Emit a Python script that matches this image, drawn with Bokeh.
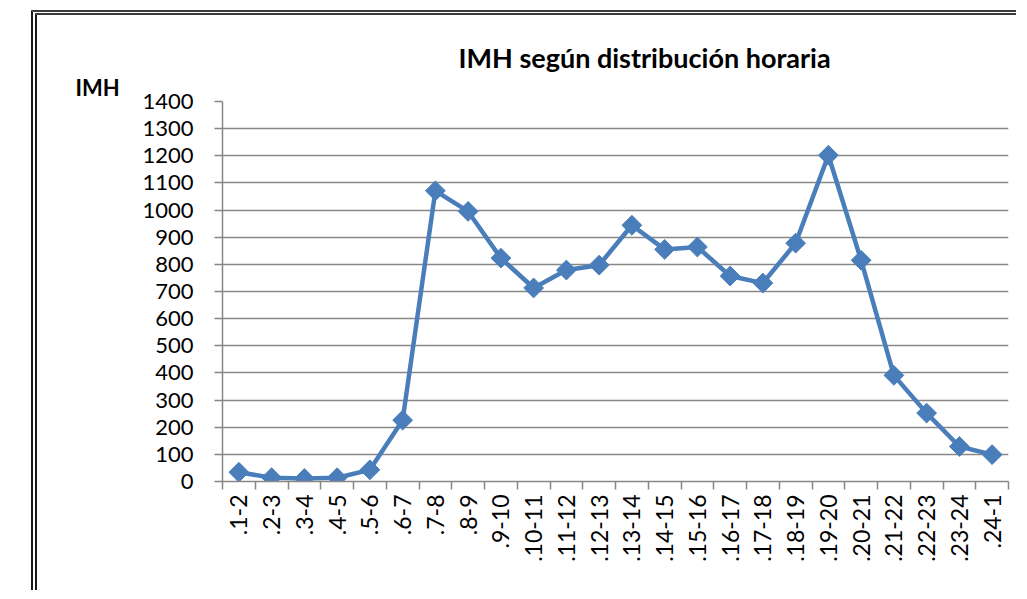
import math
from bokeh.plotting import figure
from bokeh.models import Range1d, FixedTicker, Title
from bokeh.embed import file_html
from bokeh.resources import INLINE

hours = [".1-2", ".2-3", ".3-4", ".4-5", ".5-6", ".6-7", ".7-8", ".8-9", ".9-10",
         ".10-11", ".11-12", ".12-13", ".13-14", ".14-15", ".15-16", ".16-17",
         ".17-18", ".18-19", ".19-20", ".20-21", ".21-22", ".22-23", ".23-24", ".24-1"]
imh = [34, 14, 11, 14, 43, 226, 1071, 995, 823, 713, 779, 797, 944, 855, 864, 757,
       731, 878, 1202, 815, 391, 252, 129, 99]
y_ticks = list(range(0, 1500, 100))

title_text = "IMH según distribución horaria"
y_title = "IMH"

FONT = "Lato"
BLUE = "#4A7EBB"
GRID = "#878787"

xs = [i + 0.5 for i in range(len(hours))]

# canvas starts at x=37, y=15 (after the CSS margin + double border)
W, H = 985, 580
p = figure(width=W, height=H, output_backend="svg", toolbar_location=None,
           x_range=Range1d(0, len(hours)), y_range=Range1d(0, 1400),
           min_border_left=185, min_border_right=14, min_border_top=86, min_border_bottom=114)
p.styles = {"margin-left": "31px", "margin-top": "10px",
            "border-left": "6px double #1a1a1a", "border-top": "5px double #3a3a3a"}
p.outline_line_color = None
p.background_fill_color = "white"
p.border_fill_color = "white"

# y axis
p.yaxis.ticker = FixedTicker(ticks=y_ticks, minor_ticks=[])
p.yaxis.axis_line_color = GRID
p.yaxis.axis_line_width = 1.5
p.yaxis.major_tick_line_color = GRID
p.yaxis.major_tick_line_width = 1.5
p.yaxis.major_tick_in = 0
p.yaxis.major_tick_out = 8
p.yaxis.minor_tick_line_color = None
p.yaxis.major_label_text_font = FONT
p.yaxis.major_label_text_font_size = "22px"
p.yaxis.major_label_text_color = "black"
p.yaxis.major_label_standoff = 21

# x axis: labels at centres, tick marks at boundaries
p.xaxis.ticker = FixedTicker(ticks=xs, minor_ticks=list(range(len(hours) + 1)))
p.xaxis.major_label_overrides = {x: h for x, h in zip(xs, hours)}
p.xaxis.major_tick_line_color = None
p.xaxis.minor_tick_line_color = GRID
p.xaxis.minor_tick_line_width = 1.5
p.xaxis.minor_tick_in = 0
p.xaxis.minor_tick_out = 8
p.xaxis.axis_line_color = GRID
p.xaxis.axis_line_width = 1.5
p.xaxis.major_label_orientation = math.pi / 2
p.xaxis.major_label_text_font = FONT
p.xaxis.major_label_text_font_size = "23px"
p.xaxis.major_label_text_color = "black"
p.xaxis.major_label_standoff = 5

p.xgrid.grid_line_color = None
p.ygrid.ticker = FixedTicker(ticks=y_ticks)
p.ygrid.grid_line_color = GRID
p.ygrid.grid_line_width = 1.5

p.line(xs, imh, line_color=BLUE, line_width=4.5)
p.scatter(xs, imh, marker="square", angle=math.pi / 4, size=14,
          fill_color=BLUE, line_color=BLUE)

# "IMH" unit label (closest to the frame), then the chart title above it
p.add_layout(Title(text=y_title, align="left", offset=-147, standoff=2,
                   text_font=FONT, text_font_style="bold", text_font_size="22px",
                   text_color="black"), "above")
p.title = Title(text=title_text, align="left", offset=236, standoff=-7,
                text_font=FONT, text_font_style="bold", text_font_size="27px",
                text_color="black")

open("out.html", "w").write(file_html(p, INLINE))
